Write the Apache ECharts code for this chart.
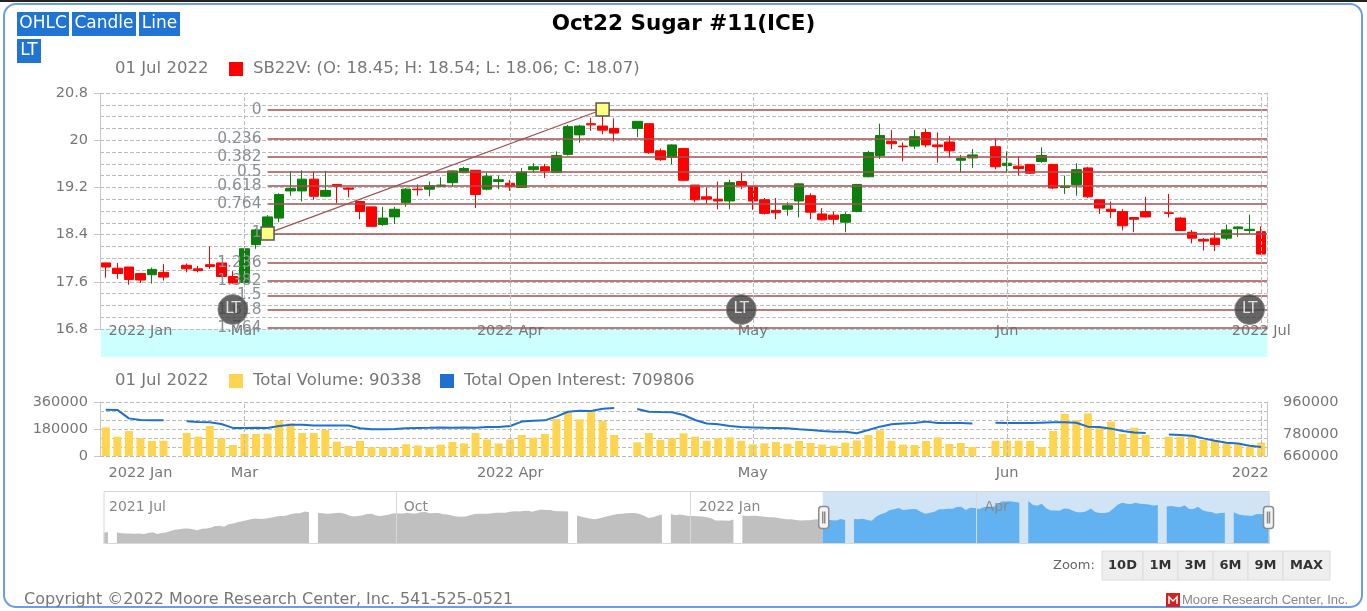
<!DOCTYPE html>
<html>
<head>
<meta charset="utf-8">
<title>Oct22 Sugar #11(ICE)</title>
<script src="https://cdn.jsdelivr.net/npm/echarts@6/dist/echarts.min.js"></script>
<style>
  html, body { margin: 0; padding: 0; background: #fff; }
  #chart { width: 1367px; height: 611px; }
</style>
</head>
<body>
<div id="chart"></div>
<script>
// Oct22 Sugar #11 (SB22V): daily candles with fib retracement, volume / open interest,
// and a one-year navigator underneath.

const FIRST_DAY = '2021-07-01'
const LAST_DAY = '2022-07-01'
const WINDOW_START = '2022-02-11'
const HOLIDAYS = ['2021-07-05', '2021-09-06', '2021-11-25', '2021-12-24', '2022-01-17',
  '2022-02-21', '2022-04-15', '2022-05-30', '2022-06-20']

// visible window, one row per trading day: [open, high, low, close]
const ohlc = [
  [17.92, 17.92, 17.67, 17.85], [17.83, 17.92, 17.65, 17.74], [17.85, 17.85, 17.55, 17.64],
  [17.74, 17.75, 17.58, 17.63], [17.72, 17.84, 17.57, 17.81], [17.76, 17.90, 17.62, 17.68],
  [17.88, 17.91, 17.76, 17.82], [17.82, 17.87, 17.76, 17.79], [17.89, 18.20, 17.82, 17.86],
  [17.92, 17.92, 17.68, 17.69], [17.69, 17.78, 17.57, 17.58], [17.59, 18.20, 17.58, 18.16],
  [18.23, 18.50, 18.16, 18.48], [18.50, 18.73, 18.42, 18.70], [18.68, 19.10, 18.61, 19.08],
  [19.14, 19.47, 19.06, 19.18], [19.14, 19.49, 18.96, 19.34], [19.34, 19.47, 18.99, 19.05],
  [19.05, 19.48, 19.04, 19.15], [19.25, 19.26, 18.93, 19.22], [19.19, 19.19, 19.03, 19.17],
  [18.96, 18.96, 18.66, 18.79], [18.87, 18.87, 18.54, 18.54], [18.57, 18.87, 18.55, 18.68],
  [18.70, 18.87, 18.58, 18.83], [18.94, 19.19, 18.87, 19.17], [19.17, 19.25, 19.06, 19.16],
  [19.17, 19.30, 19.05, 19.23], [19.22, 19.37, 19.20, 19.24], [19.28, 19.49, 19.21, 19.48],
  [19.45, 19.55, 19.44, 19.52], [19.49, 19.49, 18.85, 19.08], [19.17, 19.45, 19.15, 19.39],
  [19.30, 19.40, 19.17, 19.33], [19.27, 19.33, 19.14, 19.21], [19.20, 19.53, 19.19, 19.46],
  [19.50, 19.61, 19.45, 19.55], [19.55, 19.60, 19.36, 19.48], [19.45, 19.81, 19.45, 19.74],
  [19.76, 20.26, 19.74, 20.23], [20.09, 20.26, 19.96, 20.24], [20.28, 20.38, 20.16, 20.26],
  [20.24, 20.52, 20.10, 20.17], [20.20, 20.37, 19.98, 20.12], [20.20, 20.32, 20.05, 20.32],
  [20.28, 20.28, 19.77, 19.79], [19.82, 19.86, 19.65, 19.67], [19.71, 19.93, 19.59, 19.92],
  [19.86, 19.87, 19.31, 19.32], [19.24, 19.24, 18.95, 18.99], [19.04, 19.20, 18.93, 19.00],
  [19.00, 19.30, 18.83, 18.97], [18.97, 19.33, 18.83, 19.28], [19.30, 19.45, 19.17, 19.23],
  [19.21, 19.21, 18.82, 18.97], [18.99, 19.02, 18.74, 18.76], [18.81, 19.02, 18.66, 18.77],
  [18.83, 18.95, 18.72, 18.89], [18.97, 19.27, 18.69, 19.26], [19.06, 19.10, 18.66, 18.78],
  [18.75, 18.85, 18.64, 18.65], [18.73, 18.79, 18.57, 18.66], [18.61, 18.78, 18.44, 18.74],
  [18.79, 19.26, 18.78, 19.25], [19.38, 19.82, 19.37, 19.79], [19.74, 20.28, 19.68, 20.08],
  [19.98, 20.17, 19.85, 19.94], [19.90, 19.96, 19.64, 19.89], [19.90, 20.17, 19.85, 20.06],
  [20.13, 20.19, 19.88, 19.92], [19.92, 20.13, 19.62, 19.89], [19.97, 20.07, 19.70, 19.82],
  [19.66, 19.75, 19.45, 19.69], [19.70, 19.85, 19.53, 19.75], [19.89, 20.03, 19.51, 19.55],
  [19.57, 19.81, 19.45, 19.61], [19.56, 19.72, 19.40, 19.52], [19.59, 19.59, 19.43, 19.44],
  [19.64, 19.88, 19.62, 19.74], [19.59, 19.59, 19.17, 19.19], [19.20, 19.40, 19.09, 19.22],
  [19.25, 19.61, 19.06, 19.50], [19.53, 19.55, 19.02, 19.04], [18.99, 18.99, 18.75, 18.85],
  [18.83, 18.96, 18.68, 18.79], [18.79, 18.83, 18.47, 18.55], [18.69, 18.70, 18.44, 18.66],
  [18.79, 19.04, 18.69, 18.70], [18.77, 19.09, 18.69, 18.76], [18.68, 18.70, 18.46, 18.47],
  [18.44, 18.48, 18.25, 18.34], [18.32, 18.34, 18.13, 18.29], [18.34, 18.44, 18.12, 18.23],
  [18.34, 18.57, 18.31, 18.48], [18.50, 18.54, 18.36, 18.53], [18.47, 18.74, 18.42, 18.49],
  [18.45, 18.54, 18.06, 18.07],
]

const volume = [
  191000, 129000, 167000, 118000, 100000, 102000,
  153000, 129000, 200000, 118000, 73000, 147000, 147000, 149000, 236000, 218000,
  153000, 153000, 173000, 96000, 67000, 100000, 58000, 58000, 56000, 78000,
  71000, 60000, 76000, 93000, 84000, 153000, 111000, 84000, 111000, 140000,
  122000, 147000, 247000, 291000, 244000, 296000, 233000, 140000,
  91000, 153000, 107000, 118000, 151000, 129000, 102000, 118000, 124000, 102000,
  78000, 84000, 93000, 82000, 100000, 87000, 76000, 69000, 89000, 104000,
  140000, 171000, 102000, 76000, 73000, 100000, 124000, 80000, 87000, 60000,
  102000, 102000, 102000, 100000, 60000, 167000, 280000, 240000, 284000, 189000,
  229000, 147000, 189000, 140000,
  129000, 129000, 140000, 107000, 100000, 84000, 78000, 62000, 90338,
]

const openInterest = [
  917000, 916000, 869000, 860000, 858000, 858000,
  853000, 849000, 847000, 838000, 816000, 816000, 817000, 816000, 827000, 834000,
  834000, 829000, 829000, 829000, 829000, 814000, 808000, 808000, 810000, 814000,
  816000, 817000, 819000, 817000, 819000, 817000, 821000, 821000, 827000, 851000,
  856000, 858000, 879000, 906000, 912000, 910000, 923000, 927000,
  921000, 906000, 904000, 903000, 888000, 860000, 841000, 836000, 827000, 821000,
  819000, 817000, 816000, 814000, 808000, 804000, 799000, 795000, 795000, 786000,
  804000, 823000, 836000, 840000, 843000, 851000, 843000, 843000, 843000, 840000,
  845000, 843000, 843000, 843000, 845000, 847000, 847000, 845000, 823000, 821000,
  812000, 799000, 790000, 788000,
  780000, 777000, 773000, 758000, 745000, 734000, 729000, 717000, 709806,
]

// closes before the window, only seen in the navigator
const earlyClose = [
  15.93, 16.04,
  16.00, 15.85, 15.81, 15.81, 15.77, 15.81, 15.74, 15.89, 16.00, 15.74, 15.89, 15.97,
  16.16, 16.35, 16.39, 16.50, 16.50, 16.39, 16.27, 16.47, 16.50, 16.62, 16.85, 16.89,
  16.74, 17.08, 17.20, 17.39, 17.51, 17.66, 17.78, 17.89, 17.81, 17.85, 17.97, 18.05,
  18.20, 18.24, 18.31, 18.51, 18.62, 18.62, 18.85, 18.74,
  18.70, 18.62, 18.55, 18.58, 18.66, 18.70, 18.55, 18.31, 18.16, 18.24,
  18.35, 18.51, 18.55, 18.31, 18.24, 18.35, 18.43, 18.62, 18.58, 18.58,
  18.70, 18.58, 18.58, 18.74, 18.78, 18.62, 18.66, 18.66, 18.47, 18.43,
  18.31, 18.16, 18.12, 18.16, 18.35, 18.51, 18.55, 18.55, 18.55, 18.62,
  18.70, 18.70, 18.70, 18.82, 18.89, 18.85, 18.93, 18.97, 18.82, 19.01,
  19.12, 19.08, 19.05, 18.93, 18.89, 18.89, 18.85,
  18.31, 18.12, 18.01, 17.85, 17.78, 17.93, 18.08, 18.24, 18.39, 18.51,
  18.55, 18.62, 18.66, 18.66, 18.51, 18.28, 17.97, 18.05, 18.28, 18.43,
  18.51, 18.35, 18.43, 18.35, 18.24, 18.24, 18.20, 18.16, 18.08, 17.93,
  17.62, 17.62, 17.62, 17.58, 17.74,
  18.31, 18.24, 18.28, 18.28, 18.20, 18.12, 18.05, 18.05, 17.97, 17.85,
  17.78, 17.78, 17.70, 17.62, 17.66, 17.66, 17.74, 17.78,
]

const fibLowDate = '2022-03-03'
const fibHighDate = '2022-04-13'
const fibRatios = [0, 0.236, 0.382, 0.5, 0.618, 0.764, 1, 1.236, 1.382, 1.5, 1.618, 1.764]

const ltDates = ['2022-02-28', '2022-04-29', '2022-06-30']
const ltLevel = 17.13

const mainTickDates = ['2022-02-16', '2022-03-01', '2022-04-01', '2022-05-02', '2022-06-01', '2022-07-01']
const mainTickNames = ['2022 Jan', 'Mar', '2022 Apr', 'May', 'Jun', '2022 Jul']
const volumeTickNames = ['2022 Jan', 'Mar', '2022 Apr', 'May', 'Jun', '2022']
const monthLineDates = ['2022-03-01', '2022-04-01', '2022-05-02', '2022-06-01', '2022-07-01']
const navTickDates = ['2021-07-01', '2021-10-01', '2022-01-03', '2022-04-01']
const navTickNames = ['2021 Jul', 'Oct', '2022 Jan', 'Apr']
const oiTickValues = [660000, 780000, 960000]

const FONT = 'DejaVu Sans'
const GREY = '#777'
const GRID_DASH = '#bdbdbd'
const UP = '#0c800c'
const DOWN = '#ff0000'
const FIB = '#a34f4f'

function weekdays(from, to) {
  const out = []
  const d = new Date(from + 'T00:00:00Z')
  const end = new Date(to + 'T00:00:00Z')
  while (d <= end) {
    const wd = d.getUTCDay()
    if (wd !== 0 && wd !== 6) out.push(d.toISOString().slice(0, 10))
    d.setUTCDate(d.getUTCDate() + 1)
  }
  return out
}

const dates = weekdays(FIRST_DAY, LAST_DAY)
const windowStart = dates.indexOf(WINDOW_START)
const windowSlots = dates.length - windowStart

// lay trading-day values onto the weekday axis, holidays stay empty
function spread(values, fromIdx) {
  let k = 0
  return dates.map((d, i) => (i < fromIdx || HOLIDAYS.includes(d) ? null : values[k++]))
}

const rowOf = new Map()
spread(ohlc.map((_, i) => i), windowStart).forEach((r, i) => { if (r !== null) rowOf.set(dates[i], r) })

const closes = ohlc.map((r) => r[3])
const navClose = spread(earlyClose.concat(closes), 0)
const candleData = spread(ohlc, windowStart).map((r) => (r ? [r[0], r[3], r[2], r[1]] : ['-', '-', '-', '-']))
const volumeData = spread(volume, windowStart).map((v) => (v === null ? '-' : v))
const oiData = spread(openInterest, windowStart).map((v) => (v === null ? '-' : v))

const fibLow = ohlc[rowOf.get(fibLowDate)][2]
const fibHigh = ohlc[rowOf.get(fibHighDate)][1]
const slotX = (d) => dates.indexOf(d) - windowStart + 0.5

const mainLabelAt = new Map(mainTickDates.map((d, i) => [d, mainTickNames[i]]))
const volumeLabelAt = new Map(mainTickDates.map((d, i) => [d, volumeTickNames[i]]))
const navLabelAt = new Map(navTickDates.map((d, i) => [d, navTickNames[i]]))

const MONTHS = ['Jan', 'Feb', 'Mar', 'Apr', 'May', 'Jun', 'Jul', 'Aug', 'Sep', 'Oct', 'Nov', 'Dec']
function longDate(d) {
  const [y, m, day] = d.split('-')
  return `${day} ${MONTHS[+m - 1]} ${y}`
}

const last = ohlc[ohlc.length - 1]
const lastDateText = longDate(LAST_DAY)
const priceText = `SB22V: (O: ${last[0].toFixed(2)}; H: ${last[1].toFixed(2)}; L: ${last[2].toFixed(2)}; C: ${last[3].toFixed(2)})`

const monthLines = {
  silent: true,
  symbol: ['none', 'none'],
  label: { show: false },
  lineStyle: { color: GRID_DASH, type: 'dashed', width: 1 },
  data: monthLineDates.map((d) => ({ xAxis: d })),
}

function text(x, y, str, extra) {
  return {
    type: 'text', x, y,
    style: Object.assign({ text: str, fill: GREY, font: `16.5px "${FONT}"`, verticalAlign: 'middle' }, extra),
  }
}

const buttons = [['OHLC', 17, 12, 52], ['Candle', 72, 12, 64], ['Line', 139, 12, 41], ['LT', 17, 39, 24]]
const zoomButtons = [['10D', 1102, 41], ['1M', 1143, 35], ['3M', 1178, 35], ['6M', 1213, 35], ['9M', 1248, 35], ['MAX', 1283, 47]]

const graphic = [
  { type: 'line', shape: { x1: 0, y1: 1, x2: 1367, y2: 1 }, style: { stroke: '#222', lineWidth: 2 } },
  { type: 'rect', shape: { x: 4, y: 4, width: 1358, height: 603, r: 12 }, style: { fill: 'none', stroke: '#6a9bf0', lineWidth: 2 } },
  { type: 'rect', z: -5, shape: { x: 101, y: 329, width: 1166, height: 28 }, style: { fill: '#ccffff' } },
  text(115, 69, lastDateText),
  { type: 'rect', shape: { x: 229, y: 62, width: 14, height: 14 }, style: { fill: DOWN } },
  text(253, 69, priceText),
  text(115, 381, lastDateText),
  { type: 'rect', shape: { x: 229, y: 374, width: 14, height: 14 }, style: { fill: '#ffd54f' } },
  text(253, 381, 'Total Volume: ' + volume[volume.length - 1]),
  { type: 'rect', shape: { x: 440, y: 374, width: 14, height: 14 }, style: { fill: '#1f6fd1' } },
  text(464, 381, 'Total Open Interest: ' + openInterest[openInterest.length - 1]),
  text(1053, 566, 'Zoom:', { font: `13px "${FONT}"`, fill: '#666' }),
  text(24, 600, 'Copyright \u00a92022 Moore Research Center, Inc. 541-525-0521', { font: `16px "${FONT}"` }),
  { type: 'rect', shape: { x: 1166, y: 593, width: 14, height: 14 }, style: { fill: '#d21f1f' } },
  { type: 'polyline', shape: { points: [[1169, 604], [1169, 597], [1173, 601], [1177, 597], [1177, 604]] }, style: { stroke: '#fff', lineWidth: 1.5, fill: 'none' } },
  text(1182, 600, 'Moore Research Center, Inc.', { font: '13px "Liberation Sans"', fill: '#888' }),
]
buttons.forEach(([label, x, y, w]) => {
  graphic.push({ type: 'rect', shape: { x, y, width: w, height: 24 }, style: { fill: '#1f74d4' } })
  graphic.push(text(x + w / 2, y + 12, label, { fill: '#fff', font: `17px "${FONT}"`, align: 'center' }))
})
zoomButtons.forEach(([label, x, w]) => {
  graphic.push({ type: 'rect', shape: { x, y: 551, width: w, height: 29 }, style: { fill: '#eeeeee', stroke: '#dcdcdc', lineWidth: 1 } })
  graphic.push(text(x + w / 2, 566, label, { fill: '#333', font: `bold 13px "${FONT}"`, align: 'center' }))
})

const option = {
  animation: false,
  textStyle: { fontFamily: FONT },
  title: {
    text: 'Oct22 Sugar #11(ICE)',
    left: 'center',
    top: 8,
    textStyle: { fontSize: 21.5, fontWeight: 'bold', color: '#000', fontFamily: FONT },
  },
  tooltip: { trigger: 'axis' },
  grid: [
    { left: 100, right: 100, top: 93, height: 236 },
    { left: 100, right: 100, top: 402, height: 54 },
    { left: 101, right: 100, top: 491, height: 53 },
  ],
  xAxis: [
    {
      type: 'category', gridIndex: 0, data: dates, boundaryGap: true,
      axisLine: { show: false }, axisTick: { show: false },
      axisLabel: {
        color: GREY, fontSize: 14.5, margin: -5,
        interval: (i, v) => mainLabelAt.has(v),
        formatter: (v) => mainLabelAt.get(v) || '',
      },
      splitLine: { show: false },
    },
    {
      type: 'category', gridIndex: 1, data: dates, boundaryGap: true,
      axisLine: { show: false }, axisTick: { show: false },
      axisLabel: {
        color: GREY, fontSize: 14.5, margin: 10,
        interval: (i, v) => volumeLabelAt.has(v),
        formatter: (v) => (v === LAST_DAY ? `{clip|${volumeLabelAt.get(v)}}` : volumeLabelAt.get(v) || ''),
        rich: { clip: { color: GREY, fontSize: 14.5, padding: [0, 22, 0, 0] } },
      },
      splitLine: { show: false },
    },
    {
      type: 'category', gridIndex: 2, data: dates, boundaryGap: false, position: 'top', z: 10,
      axisLine: { show: false }, axisTick: { show: false },
      axisLabel: {
        inside: true, align: 'left', color: '#888', fontSize: 14, margin: 9, padding: [0, 0, 0, 8],
        interval: (i, v) => navLabelAt.has(v),
        formatter: (v) => navLabelAt.get(v) || '',
      },
      splitLine: { show: true, interval: (i, v) => navLabelAt.has(v) && i > 0, lineStyle: { color: '#d8d8d8', width: 1 } },
    },
    { type: 'value', gridIndex: 0, min: 0, max: windowSlots, show: false },
  ],
  yAxis: [
    {
      type: 'value', gridIndex: 0, min: 16.8, max: 20.8, interval: 0.8,
      axisLine: { show: true, lineStyle: { color: '#c8c8c8' } },
      axisTick: { show: true, length: 6, lineStyle: { color: '#c8c8c8' } },
      axisLabel: { color: GREY, fontSize: 14.5, margin: 12 },
      splitLine: { lineStyle: { color: GRID_DASH, type: 'dashed' } },
      minorTick: { show: false, splitNumber: 4 },
      minorSplitLine: { show: true, lineStyle: { color: GRID_DASH, type: 'dashed' } },
    },
    {
      type: 'value', gridIndex: 0, position: 'right', min: 16.8, max: 20.8,
      axisLine: { show: true, lineStyle: { color: GRID_DASH, type: 'dashed' } },
      axisTick: { show: false }, axisLabel: { show: false }, splitLine: { show: false },
    },
    {
      type: 'value', gridIndex: 1, min: 0, max: 360000, interval: 180000,
      axisLine: { show: true, lineStyle: { color: '#c8c8c8' } },
      axisTick: { show: true, length: 6, lineStyle: { color: '#c8c8c8' } },
      axisLabel: { color: GREY, fontSize: 14.5, margin: 12, formatter: (v) => String(v) },
      splitLine: { lineStyle: { color: GRID_DASH, type: 'dashed' } },
      minorTick: { show: false, splitNumber: 3 },
      minorSplitLine: { show: true, lineStyle: { color: GRID_DASH, type: 'dashed' } },
    },
    {
      type: 'value', gridIndex: 1, position: 'right', min: 660000, max: 960000, interval: 60000,
      axisLine: { show: true, lineStyle: { color: '#c8c8c8' } },
      axisTick: { show: false },
      axisLabel: { color: GREY, fontSize: 14.5, margin: 16, formatter: (v) => (oiTickValues.includes(v) ? String(v) : '') },
      splitLine: { show: false },
    },
    { type: 'value', gridIndex: 2, min: 0, max: 1, show: false },
  ],
  dataZoom: [
    {
      type: 'slider', xAxisIndex: [0, 1], startValue: WINDOW_START, endValue: LAST_DAY,
      left: 101, right: 100, top: 491, height: 53,
      backgroundColor: '#fff', borderColor: '#d8d8d8', borderRadius: 0,
      fillerColor: 'rgba(150,195,235,0.45)',
      dataBackground: { lineStyle: { opacity: 0 }, areaStyle: { color: '#c0c0c0', opacity: 1 } },
      selectedDataBackground: { lineStyle: { opacity: 0 }, areaStyle: { color: '#37a4f8', opacity: 1 } },
      handleIcon: 'path://M3,0 H7 A3,3 0 0 1 10,3 V19 A3,3 0 0 1 7,22 H3 A3,3 0 0 1 0,19 V3 A3,3 0 0 1 3,0 Z M4,5 V17 M6,5 V17',
      handleSize: 22,
      handleStyle: { color: '#f4f4f4', borderColor: '#8c8c8c', borderWidth: 1.5 },
      moveHandleStyle: { opacity: 0 },
      brushSelect: false,
      showDetail: false,
    },
    { type: 'inside', xAxisIndex: [0, 1] },
  ],
  series: [
    {
      // feeds the navigator shadow only
      name: 'close', type: 'line', xAxisIndex: 0, yAxisIndex: 0, data: navClose,
      symbol: 'none', silent: true, z: 0, lineStyle: { opacity: 0 }, tooltip: { show: false },
    },
    {
      name: 'fib', type: 'line', xAxisIndex: 3, yAxisIndex: 0, silent: true, z: 1,
      data: [[slotX(fibLowDate), fibLow], [slotX(fibHighDate), fibHigh]],
      symbol: 'none', lineStyle: { opacity: 0 }, tooltip: { show: false },
      markLine: {
        silent: true,
        symbol: ['none', 'none'],
        lineStyle: { color: FIB, width: 1.6, type: 'solid' },
        label: { show: true, position: 'start', formatter: '{b}', color: '#8a8f96', fontSize: 15.5, distance: 6 },
        data: fibRatios.map((r) => {
          const level = fibHigh - r * (fibHigh - fibLow)
          return [{ name: String(r), coord: [slotX(fibLowDate), level] }, { coord: [windowSlots, level] }]
        }),
      },
    },
    {
      name: 'SB22V', type: 'candlestick', xAxisIndex: 0, yAxisIndex: 0, data: candleData, z: 2,
      barWidth: 10,
      itemStyle: { color: UP, color0: DOWN, borderColor: UP, borderColor0: DOWN, borderWidth: 1 },
      markLine: monthLines,
    },
    {
      name: 'trend', type: 'line', xAxisIndex: 3, yAxisIndex: 0, z: 5, silent: true,
      data: [[slotX(fibLowDate), fibLow], [slotX(fibHighDate), fibHigh]],
      symbol: 'rect', symbolSize: 13, showSymbol: true,
      itemStyle: { color: '#ffff80', borderColor: '#555', borderWidth: 1.5 },
      lineStyle: { color: FIB, width: 1.2 },
      tooltip: { show: false },
    },
    {
      name: 'LT', type: 'scatter', xAxisIndex: 0, yAxisIndex: 0, z: 6,
      data: ltDates.map((d) => [d, ltLevel]),
      symbolSize: 30,
      itemStyle: { color: '#3e3e3e', borderColor: '#8a8a8a', borderWidth: 1 },
      label: { show: true, position: 'inside', formatter: 'LT', color: '#fff', fontSize: 15 },
      tooltip: { show: false },
    },
    {
      name: 'Total Volume', type: 'bar', xAxisIndex: 1, yAxisIndex: 2, data: volumeData,
      barWidth: 8, itemStyle: { color: '#ffd54f' },
      markLine: monthLines,
    },
    {
      name: 'Total Open Interest', type: 'line', xAxisIndex: 1, yAxisIndex: 3, data: oiData,
      symbol: 'none', connectNulls: false, z: 3,
      lineStyle: { color: '#1f6fd1', width: 2 }, itemStyle: { color: '#1f6fd1' },
    },
  ],
  graphic,
}

const chart = echarts.init(document.getElementById('chart'))
chart.setOption(option)
window.addEventListener('resize', () => chart.resize())
</script>
</body>
</html>
